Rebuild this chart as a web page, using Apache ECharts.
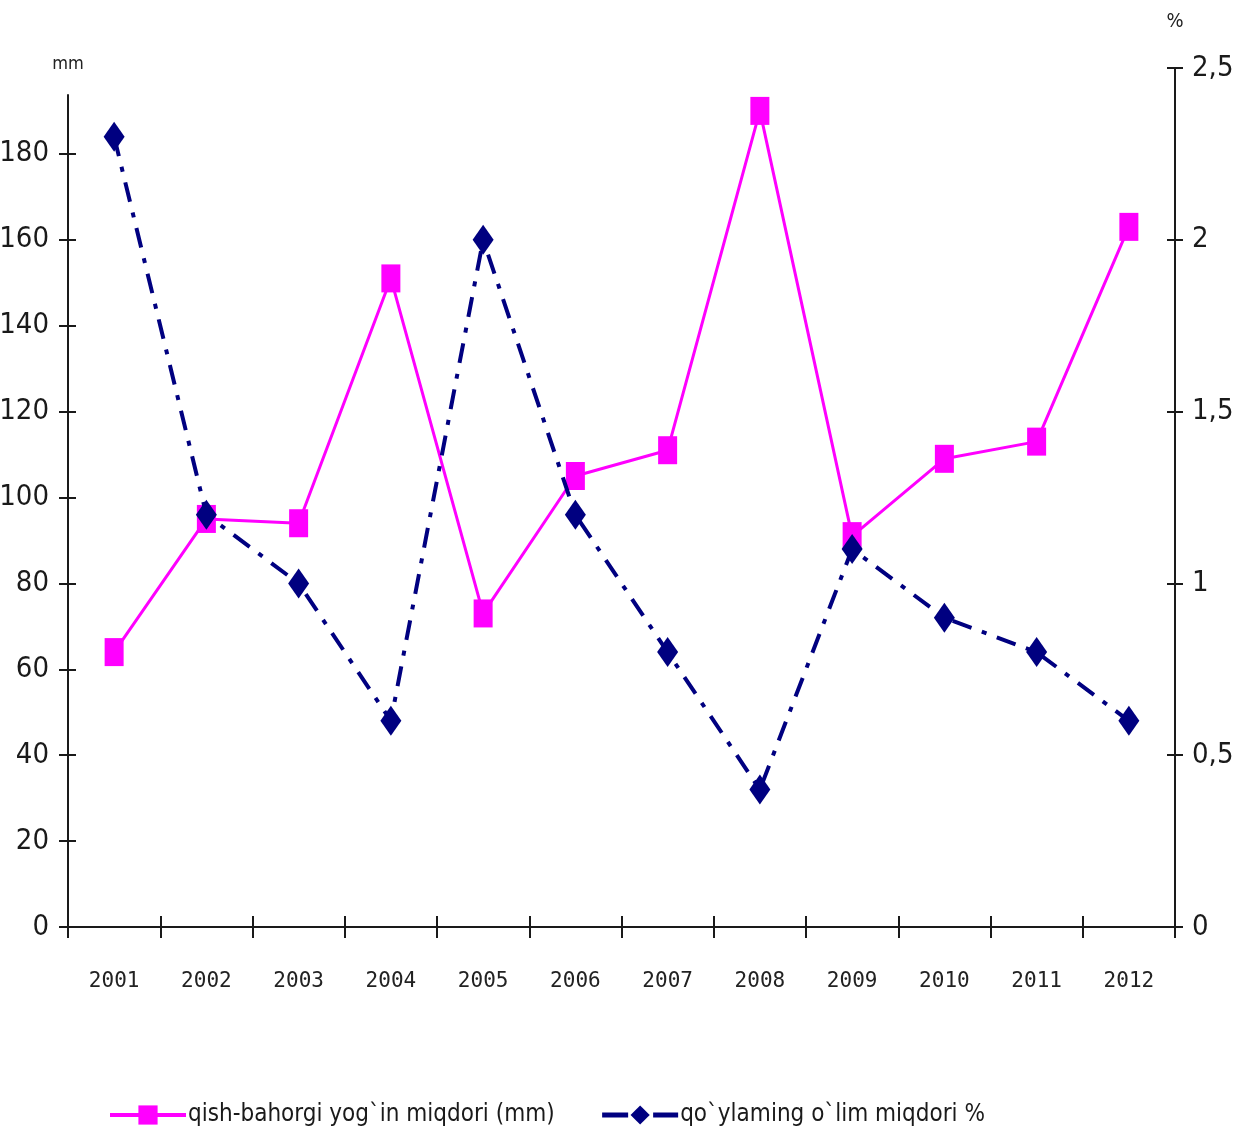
<!DOCTYPE html>
<html>
<head>
<meta charset="utf-8">
<script src="https://cdn.jsdelivr.net/npm/echarts@6/dist/echarts.min.js"></script>
<style>html,body{margin:0;padding:0;background:#fff}#c{width:1245px;height:1133px}</style>
</head>
<body>
<div id="c"></div>
<script>
const years = ['2001','2002','2003','2004','2005','2006','2007','2008','2009','2010','2011','2012'];
const rainMm = [64, 95, 94, 151, 73, 105, 111, 190, 91, 109, 113, 163];
const deathPct = [2.3, 1.2, 1.0, 0.6, 2.0, 1.2, 0.8, 0.4, 1.1, 0.9, 0.8, 0.6];
const leftTicks = [0, 20, 40, 60, 80, 100, 120, 140, 160, 180];
const rainName = 'qish-bahorgi yog`in miqdori (mm)';
const deathName = 'qo`ylaming o`lim miqdori %';

const NARROW = '"Liberation Sans Narrow","DejaVu Sans Condensed","Arial Narrow",sans-serif';
const MONO = '"DejaVu Sans Mono","Liberation Mono",monospace';

const gLeft = {left: 68, right: 70, top: 95, bottom: 206, outerBoundsMode: 'none', containLabel: false};
const gRight = {left: 68, right: 70, top: 68, bottom: 206, outerBoundsMode: 'none', containLabel: false};

const chart = echarts.init(document.getElementById('c'), null, {renderer: 'canvas'});
chart.setOption({
  animation: false,
  backgroundColor: '#ffffff',
  grid: [
    Object.assign({}, gLeft),
    Object.assign({}, gRight),
    Object.assign({}, gLeft),
    Object.assign({}, gRight)
  ],
  xAxis: [
    {
      gridIndex: 0, type: 'category', data: years, boundaryGap: true,
      axisLine: {show: true, lineStyle: {color: '#1a1a1a', width: 2}},
      axisTick: {show: true, length: 11, interval: 0, lineStyle: {color: '#1a1a1a', width: 2}},
      axisLabel: {interval: 0, margin: 44, fontFamily: MONO, fontSize: 21, color: '#222'},
      splitLine: {show: false}
    },
    {gridIndex: 1, type: 'category', data: years, boundaryGap: true, show: false},
    {
      gridIndex: 2, type: 'category', data: years, boundaryGap: true,
      axisLine: {show: false},
      axisTick: {show: true, inside: true, length: 11, interval: 0, lineStyle: {color: '#1a1a1a', width: 2}},
      axisLabel: {show: false}, splitLine: {show: false}
    },
    {gridIndex: 3, type: 'category', data: years, boundaryGap: true, show: false}
  ],
  yAxis: [
    {
      gridIndex: 0, type: 'value', position: 'left', min: 0, max: 193.7,
      name: 'mm', nameLocation: 'end', nameGap: 22,
      nameTextStyle: {fontFamily: NARROW, fontSize: 18, color: '#222', align: 'center'},
      axisLine: {show: true, lineStyle: {color: '#1a1a1a', width: 2}},
      axisTick: {show: true, length: 9, customValues: leftTicks, lineStyle: {color: '#1a1a1a', width: 2}},
      axisLabel: {customValues: leftTicks, margin: 19, fontFamily: NARROW, fontSize: 29, color: '#1a1a1a'},
      splitLine: {show: false}
    },
    {
      gridIndex: 1, type: 'value', position: 'right', min: 0, max: 2.5, interval: 0.5,
      name: '%', nameLocation: 'end', nameGap: 36,
      nameTextStyle: {fontFamily: NARROW, fontSize: 20, color: '#222', align: 'center'},
      axisLine: {show: true, lineStyle: {color: '#1a1a1a', width: 2}},
      axisTick: {show: true, length: 8, lineStyle: {color: '#1a1a1a', width: 2}},
      axisLabel: {margin: 17, fontFamily: NARROW, fontSize: 29, color: '#1a1a1a',
        formatter: v => String(v).replace('.', ',')},
      splitLine: {show: false}
    },
    {
      gridIndex: 2, type: 'value', position: 'left', min: 0, max: 193.7,
      axisLine: {show: false},
      axisTick: {show: true, inside: true, length: 8, customValues: leftTicks, lineStyle: {color: '#1a1a1a', width: 2}},
      axisLabel: {show: false}, splitLine: {show: false}
    },
    {
      gridIndex: 3, type: 'value', position: 'right', min: 0, max: 2.5, interval: 0.5,
      axisLine: {show: false},
      axisTick: {show: true, inside: true, length: 8, lineStyle: {color: '#1a1a1a', width: 2}},
      axisLabel: {show: false}, splitLine: {show: false}
    }
  ],
  legend: {
    left: 103, top: 1098, itemGap: 45, itemWidth: 76, itemHeight: 24,
    textStyle: {fontFamily: NARROW, fontSize: 24, color: '#1a1a1a', padding: [0,0,0,-3]},
    data: [
      {name: rainName, lineStyle: {width: 4}},
      {name: deathName, lineStyle: {width: 5, type: [26, 10, 5, 10]}}
    ]
  },
  series: [
    {
      name: rainName, type: 'line', xAxisIndex: 0, yAxisIndex: 0, data: rainMm,
      symbol: 'rect', symbolSize: [19, 28],
      lineStyle: {color: '#ff00ff', width: 3},
      itemStyle: {color: '#ff00ff'},
      z: 2
    },
    {
      name: deathName, type: 'line', xAxisIndex: 1, yAxisIndex: 1, data: deathPct,
      symbol: 'diamond', symbolSize: [21, 30],
      lineStyle: {color: '#000080', width: 4, type: [20, 11, 5, 11]},
      itemStyle: {color: '#000080'},
      z: 3
    }
  ]
});
</script>
</body>
</html>
